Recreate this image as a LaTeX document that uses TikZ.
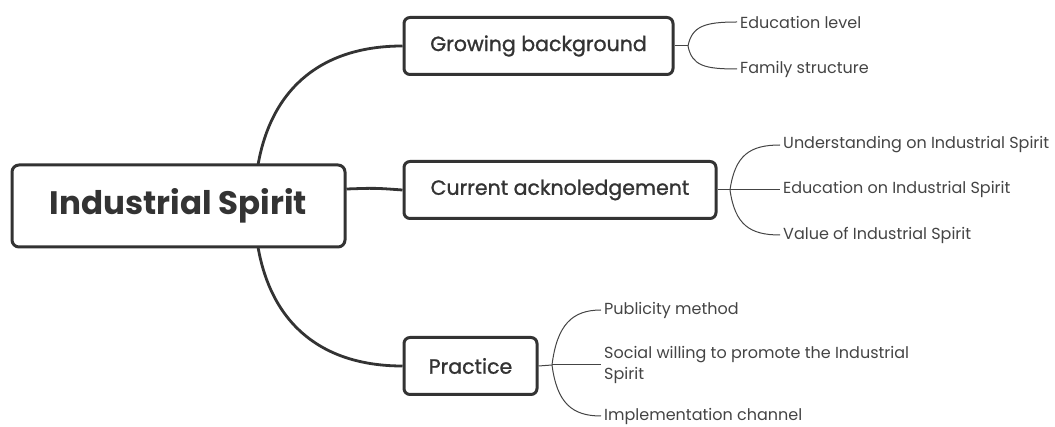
\documentclass[tikz,border=0pt]{standalone}
\usepackage{fontspec}
\setmainfont{Poppins}
\newfontfamily\midfont{Poppins}[FakeBold=1.2]
\begin{document}
\begin{tikzpicture}[x=1pt,y=-1pt,
  mainbox/.style={draw=ink,line width=3pt,rounded corners=7pt,minimum width=333pt,minimum height=82pt,font=\fontsize{32.5}{36}\selectfont\bfseries,text=ink},
  midbox/.style={draw=ink,line width=3pt,rounded corners=6pt,minimum height=57pt,font=\fontsize{20.5}{23}\midfont,text=ink},
  leaf/.style={anchor=west,inner sep=0pt,font=\fontsize{16}{21}\selectfont,text=leafink,align=left},
  thick link/.style={draw=ink,line width=2.8pt},
  thin link/.style={draw=leafink,line width=1pt}]
\definecolor{ink}{HTML}{333333}
\definecolor{leafink}{HTML}{444444}
\useasboundingbox (0,0) rectangle (1055,427);
\node[mainbox] (main) at (178.5,206) {Industrial Spirit};
\node[midbox,minimum width=269pt] (grow) at (538.5,46) {Growing background};
\node[midbox,minimum width=312pt] (cur) at (560,190) {Current acknoledgement};
\node[midbox,minimum width=133pt] (prac) at (470.5,366) {Practice};
% main links
\coordinate (mt) at (258,165);
\coordinate (mb) at (258,247);
\draw[thick link] (mt) .. controls (272,85) and (325,46) .. (grow.west);
\draw[thick link] (main.east |- 0,189) .. controls (375,188) .. (cur.west);
\draw[thick link] (mb) .. controls (272,327) and (325,366) .. (prac.west);
% leaves
\node[leaf] (g1) at (740,22) {Education level};
\node[leaf] (g2) at (740,69) {Family structure};
\node[leaf] (c1) at (783,145) {Understanding on Industrial Spirit};
\node[leaf] (c2) at (783,189) {Education on Industrial Spirit};
\node[leaf] (c3) at (783,235) {Value of Industrial Spirit};
\node[leaf] (p1) at (604,310) {Publicity method};
\node[leaf] (p2) at (604,365) {Social willing to promote the Industrial\\Spirit};
\node[leaf] (p3) at (604,416) {Implementation channel};
% junctions
\coordinate (gj) at (688,46);
\coordinate (cj) at (730,190);
\coordinate (pj) at (552,365);
\draw[thin link] (grow.east) -- (gj);
\draw[thin link] (gj) .. controls (692,26) and (705,22) .. ([xshift=-3pt]g1.west);
\draw[thin link] (gj) .. controls (692,66) and (705,69) .. ([xshift=-3pt]g2.west);
\draw[thin link] (cur.east) -- (cj);
\draw[thin link] (cj) .. controls (735,155) and (750,145) .. ([xshift=-3pt]c1.west);
\draw[thin link] (cj) -- ([xshift=-3pt]cj -| c2.west);
\draw[thin link] (cj) .. controls (735,225) and (750,235) .. ([xshift=-3pt]c3.west);
\draw[thin link] (prac.east) -- (pj);
\draw[thin link] (pj) .. controls (557,325) and (572,310) .. ([xshift=-3pt]p1.west);
\draw[thin link] (pj) -- ([xshift=-3pt]pj -| p2.west);
\draw[thin link] (pj) .. controls (557,403) and (572,416) .. ([xshift=-3pt]p3.west);
\end{tikzpicture}
\end{document}
